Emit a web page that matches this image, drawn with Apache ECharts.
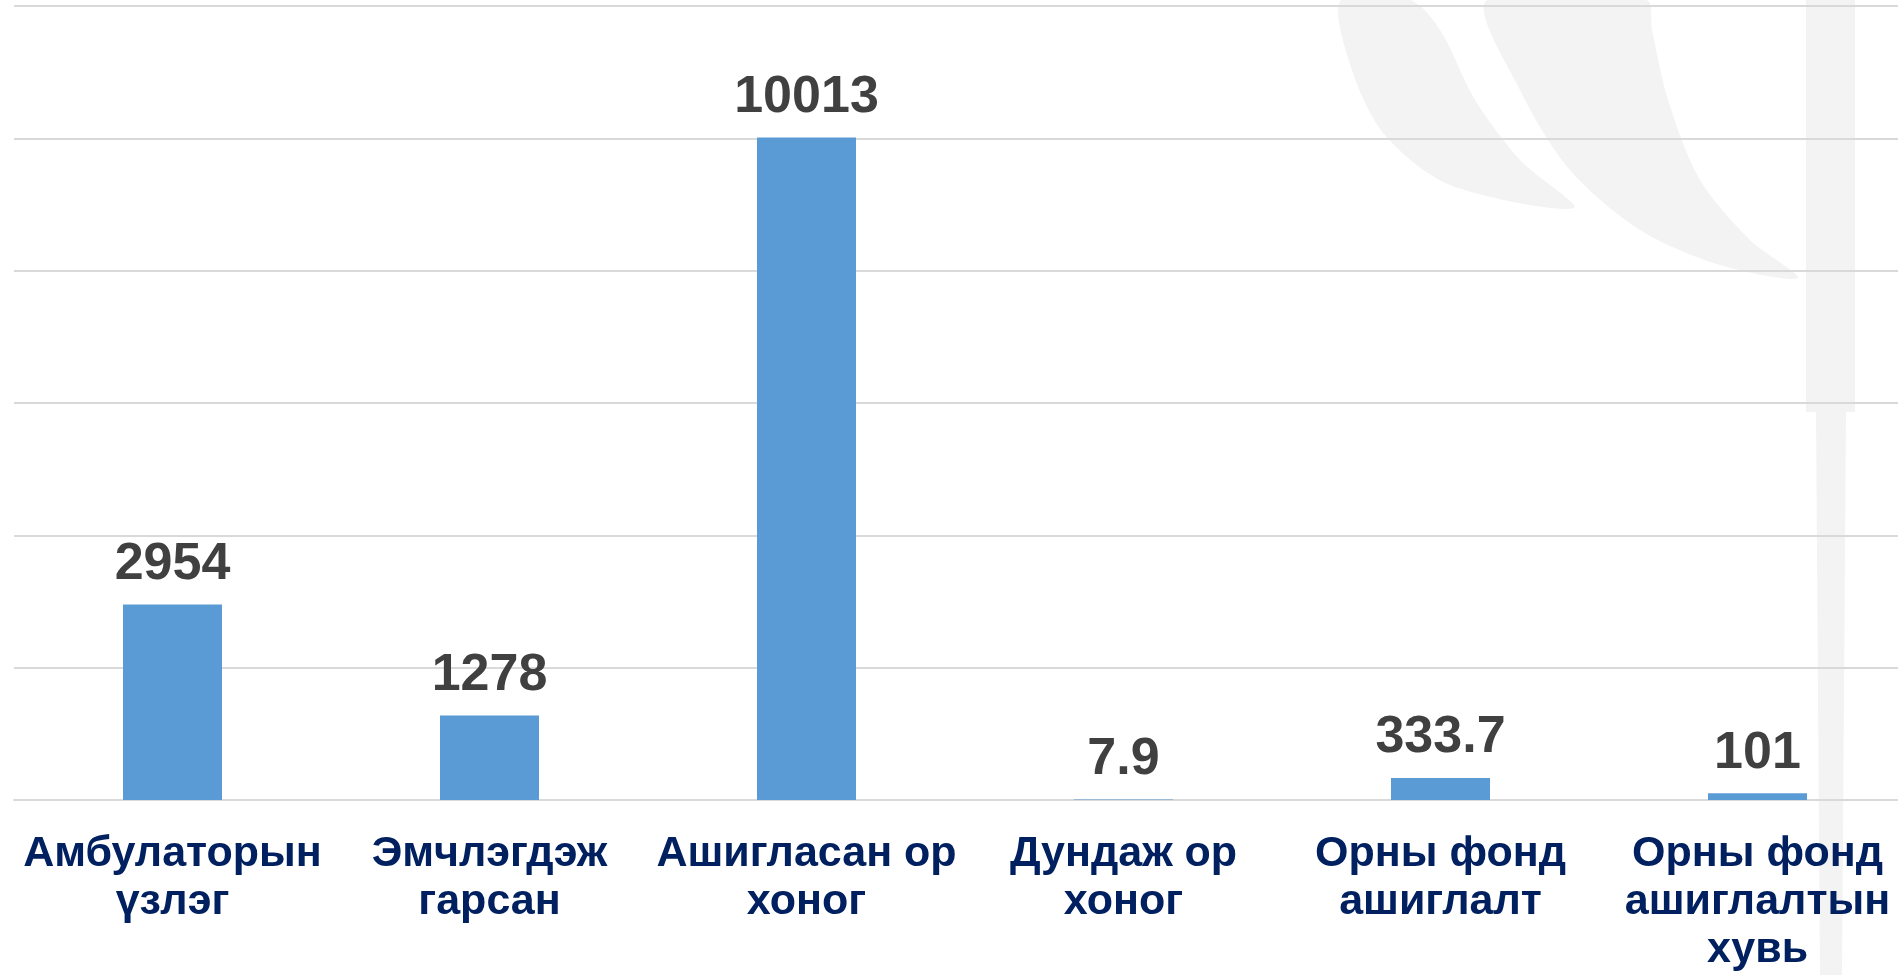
<!DOCTYPE html>
<html>
<head>
<meta charset="utf-8">
<script src="https://cdn.jsdelivr.net/npm/echarts@6/dist/echarts.min.js"></script>
<style>
  html, body { margin: 0; padding: 0; background: #fff; overflow: hidden; }
  /* plot area runs past the right edge of the slide, so the canvas is wider than the view */
  #chart { width: 1920px; height: 975px; }
</style>
</head>
<body>
<div id="chart"></div>
<script>
// categories & values
const categories = [
  'Амбулаторын\nүзлэг',
  'Эмчлэгдэж\nгарсан',
  'Ашигласан ор\nхоног',
  'Дундаж ор\nхоног',
  'Орны фонд\nашиглалт',
  'Орны фонд\nашиглалтын\nхувь',
];
const values = [2954, 1278, 10013, 7.9, 333.7, 101];
const yMax = 12000, yStep = 2000;

const chart = echarts.init(document.getElementById('chart'));

// faint watermark behind the plot (slide background)
const wm = '#f3f3f3';
const watermark = [
  { type: 'polygon', shape: { smooth: 0.3, points: [[1341, 0], [1352, 70], [1385, 135], [1450, 185], [1574, 208],
      [1520, 160], [1475, 100], [1440, 30], [1410, 0]] }, style: { fill: wm } },
  { type: 'polygon', shape: { smooth: 0.3, points: [[1487, 0], [1520, 90], [1570, 170], [1640, 230], [1720, 265], [1798, 278],
      [1750, 240], [1700, 180], [1668, 100], [1652, 30], [1646, 0]] }, style: { fill: wm } },
  { type: 'rect', shape: { x: 1806, y: 0, width: 49, height: 412 }, style: { fill: wm } },
  { type: 'polygon', shape: { points: [[1816, 412], [1846, 412], [1842, 975], [1820, 975]] }, style: { fill: wm } },
];

chart.setOption({
  backgroundColor: '#ffffff',
  graphic: { elements: watermark.map(e => Object.assign({}, e, { z: -10, silent: true })) },
  grid: { left: 14, top: 6, right: 4, bottom: 175, containLabel: false },
  xAxis: {
    type: 'category', data: categories,
    axisLine: { lineStyle: { color: '#d9d9d9', width: 2 } },
    axisTick: { show: false },
    axisLabel: {
      interval: 0, margin: 30,
      color: '#002060', fontFamily: 'Liberation Sans, Arial, sans-serif',
      fontWeight: 'bold', fontSize: 43, lineHeight: 48,
    },
  },
  yAxis: {
    type: 'value', min: 0, max: yMax, interval: yStep,
    axisLine: { show: false }, axisTick: { show: false },
    axisLabel: { show: false },
    splitLine: { lineStyle: { color: '#d9d9d9', width: 2 } },
  },
  series: [{
    type: 'bar', data: values, barWidth: 99,
    itemStyle: { color: '#5b9bd5' },
    label: {
      show: true, position: 'top', distance: 14,
      color: '#404040', fontFamily: 'Liberation Sans, Arial, sans-serif',
      fontWeight: 'bold', fontSize: 52, lineHeight: 52,
    },
  }],
});
</script>
</body>
</html>
